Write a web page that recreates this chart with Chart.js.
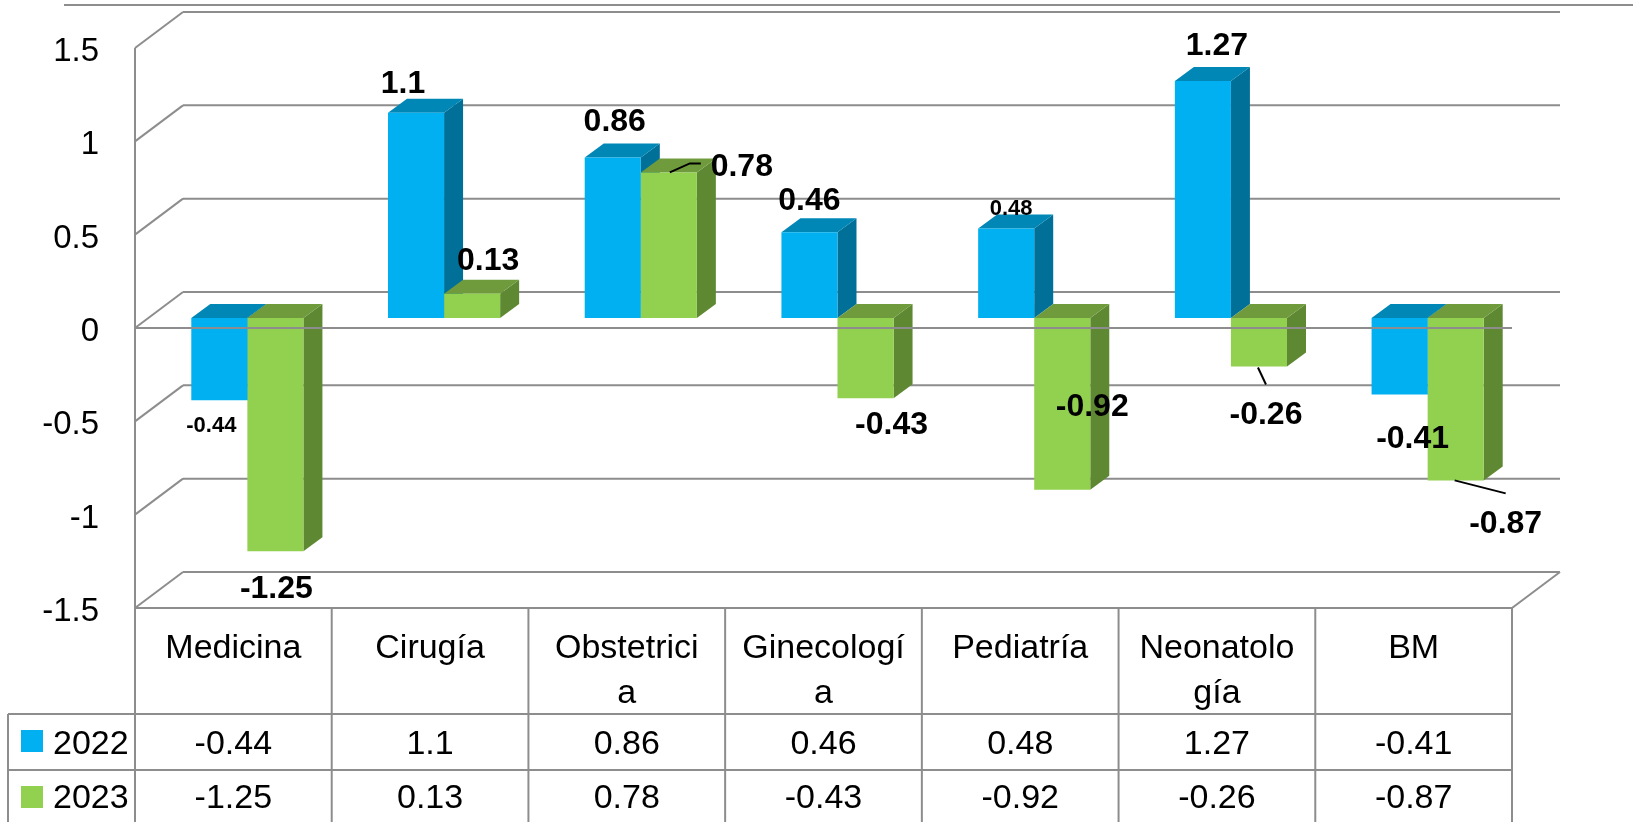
<!DOCTYPE html>
<html>
<head>
<meta charset="utf-8">
<script src="https://cdn.jsdelivr.net/npm/chart.js@4.4.1/dist/chart.umd.min.js"></script>
<style>
  html, body { margin: 0; padding: 0; background: #ffffff; }
  #wrap { width: 1633px; height: 822px; }
</style>
</head>
<body>
<div id="wrap"><canvas id="c" width="1633" height="822"></canvas></div>
<script>
// ---------- data ----------
const categories = ['Medicina', 'Cirugía', 'Obstetricia', 'Ginecología', 'Pediatría', 'Neonatología', 'BM'];
const headerLines = [['Medicina'], ['Cirugía'], ['Obstetrici', 'a'], ['Ginecologí', 'a'], ['Pediatría'], ['Neonatolo', 'gía'], ['BM']];
const seriesNames = ['2022', '2023'];
const values2022 = [-0.44, 1.1, 0.86, 0.46, 0.48, 1.27, -0.41];
const values2023 = [-1.25, 0.13, 0.78, -0.43, -0.92, -0.26, -0.87];
const yTicks = [1.5, 1, 0.5, 0, -0.5, -1, -1.5];
const yTickLabels = ['1.5', '1', '0.5', '0', '-0.5', '-1', '-1.5'];

// ---------- styling ----------
const FRONT = ['#00B0F0', '#92D050'];
const TOPC = ['#0087B6', '#709B3C'];
const SIDE = ['#007099', '#5F8833'];
const GRID = '#8d8d8d';
const FONT = '"Liberation Sans", Arial, sans-serif';

// label placement (offsets from bar value end, in px) and size flag
const labelPlace = [
  [[-8, 32, 1], [-13, -20, 0], [2, -26, 0], [0, -22, 0], [5, -13, 1], [14, -26, 0], [13, 53, 0]],
  [[1, 47, 0], [16, -24, 0], [73, 4, 0], [26, 36, 0], [30, -74, 0], [7, 57, 0], [50, 53, 0]]
];
// leader lines (relative polylines) for some labels
const leaders = {
  '1-2': [[1, 0], [21, -9], [32, -9]],
  '1-5': [[-1, 1], [7, 18]],
  '1-6': [[-1, 0], [50, 13]]
};

const FR = { dx: -14, dy: 10 };   // front plane offset from bar plane
const BK = { dx: 34, dy: -26 };   // back plane offset from bar plane
const BD = { dx: 19, dy: 14 };    // bar depth

function seg(ctx, x1, y1, x2, y2) {
  ctx.beginPath(); ctx.moveTo(x1, y1); ctx.lineTo(x2, y2); ctx.stroke();
}
function poly(ctx, pts, color) {
  ctx.beginPath(); ctx.moveTo(pts[0][0], pts[0][1]);
  for (let i = 1; i < pts.length; i++) ctx.lineTo(pts[i][0], pts[i][1]);
  ctx.closePath(); ctx.fillStyle = color; ctx.fill();
}

const threeD = {
  id: 'threeD',
  beforeDatasetsDraw(chart) {
    const { ctx, chartArea: a, scales: { x, y } } = chart;
    ctx.save();
    ctx.strokeStyle = GRID; ctx.lineWidth = 2; ctx.lineCap = 'butt';
    // outer top line
    seg(ctx, a.left - 85, y.getPixelForValue(1.5) - 33, chart.width, y.getPixelForValue(1.5) - 33);
    // back wall gridlines + left wall diagonals
    yTicks.forEach(v => {
      const py = y.getPixelForValue(v);
      seg(ctx, a.left + FR.dx, py + FR.dy, a.left + BK.dx, py + BK.dy);
      seg(ctx, a.left + BK.dx, py + BK.dy, a.right + BK.dx, py + BK.dy);
    });
    // front vertical axis (continues through the table)
    seg(ctx, a.left + FR.dx, y.getPixelForValue(1.5) + FR.dy, a.left + FR.dx, chart.height);
    // floor right diagonal
    const fy = y.getPixelForValue(-1.5);
    seg(ctx, a.right + FR.dx, fy + FR.dy, a.right + BK.dx, fy + BK.dy);

    // bar sides and tops (painter order)
    const metas = [chart.getDatasetMeta(0), chart.getDatasetMeta(1)];
    for (let i = 0; i < categories.length; i++) {
      for (let d = 0; d < 2; d++) {
        const el = metas[d].data[i];
        const l = el.x - el.width / 2, r = el.x + el.width / 2;
        const t = Math.min(el.y, el.base), b = Math.max(el.y, el.base);
        poly(ctx, [[r, t], [r + BD.dx, t - BD.dy], [r + BD.dx, b - BD.dy], [r, b]], SIDE[d]);
        poly(ctx, [[l, t], [l + BD.dx, t - BD.dy], [r + BD.dx, t - BD.dy], [r, t]], TOPC[d]);
      }
    }
    ctx.restore();
  },
  afterDatasetsDraw(chart) {
    const { ctx, chartArea: a, scales: { x, y } } = chart;
    ctx.save();
    ctx.strokeStyle = GRID; ctx.lineWidth = 2;
    // front zero line over the bars
    const z = y.getPixelForValue(0);
    seg(ctx, a.left + FR.dx, z + FR.dy, a.right + FR.dx, z + FR.dy);

    // y tick labels
    ctx.fillStyle = '#000';
    ctx.font = '33px ' + FONT;
    ctx.textAlign = 'right'; ctx.textBaseline = 'middle';
    yTicks.forEach((v, k) => {
      ctx.fillText(yTickLabels[k], a.left - 50, y.getPixelForValue(v) + FR.dy + 4);
    });

    // data labels
    ctx.textAlign = 'center'; ctx.textBaseline = 'alphabetic';
    const metas = [chart.getDatasetMeta(0), chart.getDatasetMeta(1)];
    const vals = [values2022, values2023];
    for (let d = 0; d < 2; d++) {
      for (let i = 0; i < categories.length; i++) {
        const el = metas[d].data[i];
        const p = labelPlace[d][i];
        ctx.font = 'bold ' + (p[2] ? 22 : 32) + 'px ' + FONT;
        ctx.fillText(String(vals[d][i]), el.x + p[0], el.y + p[1]);
        const ld = leaders[d + '-' + i];
        if (ld) {
          ctx.strokeStyle = '#000'; ctx.lineWidth = 2;
          ctx.beginPath();
          ctx.moveTo(el.x + ld[0][0], el.y + ld[0][1]);
          for (let q = 1; q < ld.length; q++) ctx.lineTo(el.x + ld[q][0], el.y + ld[q][1]);
          ctx.stroke();
        }
      }
    }

    // data table
    const step = x.getPixelForValue(1) - x.getPixelForValue(0);
    const x0 = a.left + FR.dx;
    const tableTop = y.getPixelForValue(-1.5) + FR.dy;
    const rowH = [106, 56, 56];
    const r1 = tableTop + rowH[0], r2 = r1 + rowH[1];
    const legL = 8;
    ctx.strokeStyle = GRID; ctx.lineWidth = 2;
    seg(ctx, x0, tableTop, x0 + step * categories.length, tableTop);
    seg(ctx, legL, r1, x0 + step * categories.length, r1);
    seg(ctx, legL, r2, x0 + step * categories.length, r2);
    seg(ctx, legL, r1, legL, chart.height);
    for (let i = 0; i <= categories.length; i++) {
      seg(ctx, x0 + step * i, tableTop, x0 + step * i, chart.height);
    }
    ctx.fillStyle = '#000';
    ctx.textAlign = 'center';
    ctx.font = '34px ' + FONT;
    for (let i = 0; i < categories.length; i++) {
      const cx = x.getPixelForValue(i) + FR.dx;
      headerLines[i].forEach((s, k) => ctx.fillText(s, cx, tableTop + 50 + k * 45));
      ctx.fillText(String(values2022[i]), cx, r1 + 40);
      ctx.fillText(String(values2023[i]), cx, r2 + 38);
    }
    // legend keys
    ctx.textAlign = 'left';
    [r1, r2].forEach((ry, d) => {
      ctx.fillStyle = FRONT[d];
      ctx.fillRect(21, ry + (d ? 16 : 16), 22, 22);
      ctx.fillStyle = '#000';
      ctx.fillText(seriesNames[d], 53, ry + (d ? 38 : 40));
    });
    ctx.restore();
  }
};

new Chart(document.getElementById('c'), {
  type: 'bar',
  data: {
    labels: categories,
    datasets: [
      { label: seriesNames[0], data: values2022, backgroundColor: FRONT[0], borderWidth: 0 },
      { label: seriesNames[1], data: values2023, backgroundColor: FRONT[1], borderWidth: 0 }
    ]
  },
  options: {
    responsive: false,
    animation: false,
    devicePixelRatio: 1,
    layout: { padding: { left: 149, right: 107, top: 38, bottom: 224 } },
    datasets: { bar: { categoryPercentage: 0.57, barPercentage: 1.0 } },
    scales: {
      x: { display: false, offset: true },
      y: { display: false, min: -1.5, max: 1.5 }
    },
    plugins: { legend: { display: false }, tooltip: { enabled: false } }
  },
  plugins: [threeD]
});
</script>
</body>
</html>
